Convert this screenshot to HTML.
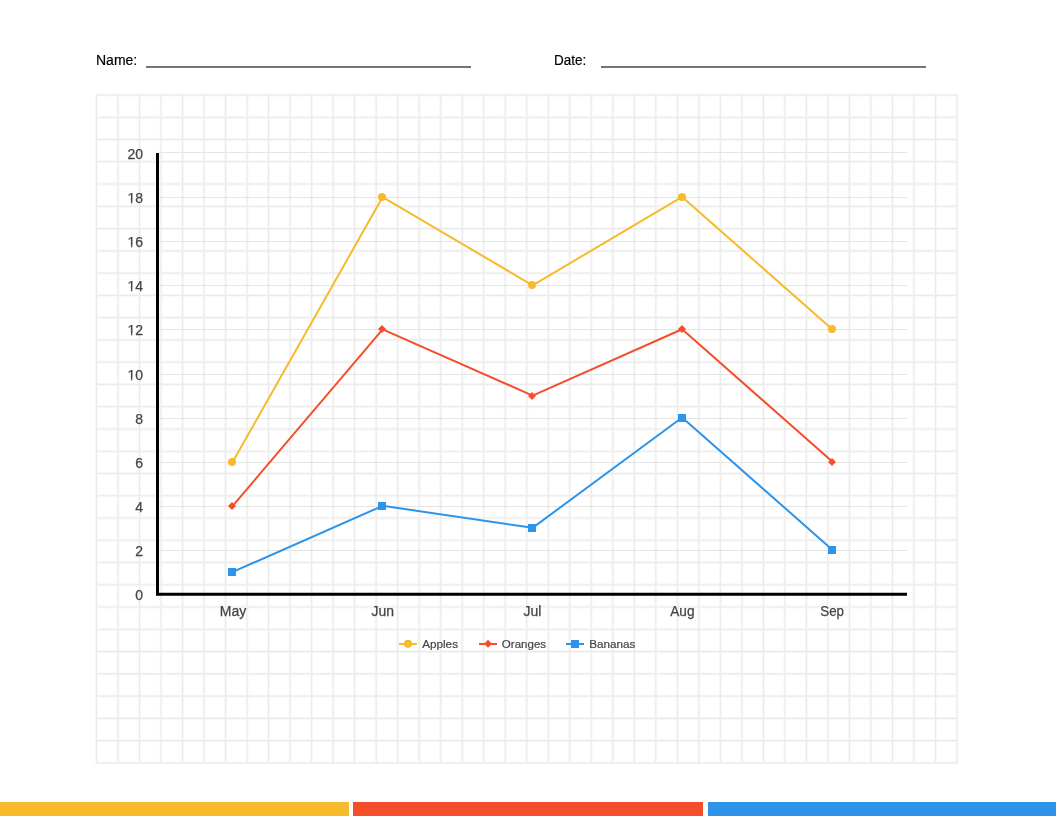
<!DOCTYPE html>
<html lang="en">
<head>
<meta charset="utf-8">
<title>Line Graph Worksheet</title>
<style>
html,body{margin:0;padding:0;background:#ffffff;}
body{width:1056px;height:816px;position:relative;overflow:hidden;font-family:"Liberation Sans",sans-serif;}
svg{position:absolute;will-change:transform;left:0;top:0;display:block;}
text{font-family:"Liberation Sans",sans-serif;}
.hd{font-size:14px;fill:#000000;stroke:#000000;stroke-width:0.2px;}
.ax{font-size:14px;fill:#444444;stroke:#444444;stroke-width:0.25px;}
.lg{font-size:11.8px;fill:#444444;stroke:#444444;stroke-width:0.2px;}
</style>
</head>
<body>
<svg width="1056" height="816" viewBox="0 0 1056 816">

<!-- header -->
<text class="hd" x="96" y="64.8">Name:</text>
<rect x="146" y="66" width="325" height="2" fill="#747474"/>
<text class="hd" x="554" y="64.8" textLength="32.2" lengthAdjust="spacingAndGlyphs">Date:</text>
<rect x="601" y="66" width="325" height="2" fill="#747474"/>
<!-- graph paper -->
<path d="M96.5 94.3V763.6M118.01 94.3V763.6M139.53 94.3V763.6M161.04 94.3V763.6M182.55 94.3V763.6M204.06 94.3V763.6M225.57 94.3V763.6M247.09 94.3V763.6M268.6 94.3V763.6M290.11 94.3V763.6M311.62 94.3V763.6M333.14 94.3V763.6M354.65 94.3V763.6M376.16 94.3V763.6M397.68 94.3V763.6M419.19 94.3V763.6M440.7 94.3V763.6M462.21 94.3V763.6M483.72 94.3V763.6M505.24 94.3V763.6M526.75 94.3V763.6M548.26 94.3V763.6M569.77 94.3V763.6M591.29 94.3V763.6M612.8 94.3V763.6M634.31 94.3V763.6M655.82 94.3V763.6M677.34 94.3V763.6M698.85 94.3V763.6M720.36 94.3V763.6M741.88 94.3V763.6M763.39 94.3V763.6M784.9 94.3V763.6M806.41 94.3V763.6M827.92 94.3V763.6M849.44 94.3V763.6M870.95 94.3V763.6M892.46 94.3V763.6M913.98 94.3V763.6M935.49 94.3V763.6M957 94.3V763.6M95.8 95H957.7M95.8 117.26H957.7M95.8 139.53H957.7M95.8 161.79H957.7M95.8 184.05H957.7M95.8 206.32H957.7M95.8 228.58H957.7M95.8 250.84H957.7M95.8 273.11H957.7M95.8 295.37H957.7M95.8 317.63H957.7M95.8 339.9H957.7M95.8 362.16H957.7M95.8 384.42H957.7M95.8 406.69H957.7M95.8 428.95H957.7M95.8 451.21H957.7M95.8 473.48H957.7M95.8 495.74H957.7M95.8 518H957.7M95.8 540.27H957.7M95.8 562.53H957.7M95.8 584.79H957.7M95.8 607.06H957.7M95.8 629.32H957.7M95.8 651.58H957.7M95.8 673.85H957.7M95.8 696.11H957.7M95.8 718.37H957.7M95.8 740.64H957.7M95.8 762.9H957.7" fill="none" stroke="#000000" stroke-opacity="0.03" stroke-width="2.9"/>
<path d="M96.5 94.3V763.6M118.01 94.3V763.6M139.53 94.3V763.6M161.04 94.3V763.6M182.55 94.3V763.6M204.06 94.3V763.6M225.57 94.3V763.6M247.09 94.3V763.6M268.6 94.3V763.6M290.11 94.3V763.6M311.62 94.3V763.6M333.14 94.3V763.6M354.65 94.3V763.6M376.16 94.3V763.6M397.68 94.3V763.6M419.19 94.3V763.6M440.7 94.3V763.6M462.21 94.3V763.6M483.72 94.3V763.6M505.24 94.3V763.6M526.75 94.3V763.6M548.26 94.3V763.6M569.77 94.3V763.6M591.29 94.3V763.6M612.8 94.3V763.6M634.31 94.3V763.6M655.82 94.3V763.6M677.34 94.3V763.6M698.85 94.3V763.6M720.36 94.3V763.6M741.88 94.3V763.6M763.39 94.3V763.6M784.9 94.3V763.6M806.41 94.3V763.6M827.92 94.3V763.6M849.44 94.3V763.6M870.95 94.3V763.6M892.46 94.3V763.6M913.98 94.3V763.6M935.49 94.3V763.6M957 94.3V763.6M95.8 95H957.7M95.8 117.26H957.7M95.8 139.53H957.7M95.8 161.79H957.7M95.8 184.05H957.7M95.8 206.32H957.7M95.8 228.58H957.7M95.8 250.84H957.7M95.8 273.11H957.7M95.8 295.37H957.7M95.8 317.63H957.7M95.8 339.9H957.7M95.8 362.16H957.7M95.8 384.42H957.7M95.8 406.69H957.7M95.8 428.95H957.7M95.8 451.21H957.7M95.8 473.48H957.7M95.8 495.74H957.7M95.8 518H957.7M95.8 540.27H957.7M95.8 562.53H957.7M95.8 584.79H957.7M95.8 607.06H957.7M95.8 629.32H957.7M95.8 651.58H957.7M95.8 673.85H957.7M95.8 696.11H957.7M95.8 718.37H957.7M95.8 740.64H957.7M95.8 762.9H957.7" fill="none" stroke="#000000" stroke-opacity="0.05" stroke-width="1.1"/>
<!-- chart gridlines -->
<g stroke="#e5e5e5" stroke-width="1">
<line x1="159" y1="550.5" x2="907" y2="550.5"/>
<line x1="159" y1="506.5" x2="907" y2="506.5"/>
<line x1="159" y1="462.5" x2="907" y2="462.5"/>
<line x1="159" y1="418.5" x2="907" y2="418.5"/>
<line x1="159" y1="374.5" x2="907" y2="374.5"/>
<line x1="159" y1="329.5" x2="907" y2="329.5"/>
<line x1="159" y1="285.5" x2="907" y2="285.5"/>
<line x1="159" y1="241.5" x2="907" y2="241.5"/>
<line x1="159" y1="197.5" x2="907" y2="197.5"/>
<line x1="159" y1="152.5" x2="907" y2="152.5"/>
</g>
<!-- axes -->
<path d="M157.5 153 V594.25 H907" fill="none" stroke="#000000" stroke-width="3"/>
<defs><clipPath id="c1"><path clip-rule="evenodd" d="M100 -14H150V6H100Z M127.92 -2.1H131.02V1H127.92Z M132.32 -2.1H135.22V1H132.32Z"/></clipPath></defs>
<g class="ax" text-anchor="end">
<text x="143.1" y="600">0</text>
<text x="143.1" y="556">2</text>
<text x="143.1" y="512">4</text>
<text x="143.1" y="468">6</text>
<text x="143.1" y="424">8</text>
<g transform="translate(0,380)"><text x="143.1" y="0" clip-path="url(#c1)">10</text></g>
<g transform="translate(0,335)"><text x="143.1" y="0" clip-path="url(#c1)">12</text></g>
<g transform="translate(0,291)"><text x="143.1" y="0" clip-path="url(#c1)">14</text></g>
<g transform="translate(0,247)"><text x="143.1" y="0" clip-path="url(#c1)">16</text></g>
<g transform="translate(0,203)"><text x="143.1" y="0" clip-path="url(#c1)">18</text></g>
<text x="143.1" y="159">20</text>
</g>
<g class="ax" text-anchor="middle">
<text x="233" y="615.8">May</text>
<text x="382.75" y="615.8">Jun</text>
<text x="532.4" y="615.8">Jul</text>
<text x="682.4" y="615.8" textLength="24.3" lengthAdjust="spacingAndGlyphs">Aug</text>
<text x="832.1" y="615.8" textLength="23.7" lengthAdjust="spacingAndGlyphs">Sep</text>
</g>
<!-- series -->
<polyline points="232.75,461.7 382.65,197.1 532.6,285.3 682.15,196.95 832.5,329.4" fill="none" stroke="#F6BA2A" stroke-width="2" stroke-linejoin="round"/>
<circle cx="232" cy="462" r="4" fill="#F6BA2A"/>
<circle cx="382" cy="197" r="4" fill="#F6BA2A"/>
<circle cx="532" cy="285" r="4" fill="#F6BA2A"/>
<circle cx="682" cy="197" r="4" fill="#F6BA2A"/>
<circle cx="832" cy="329" r="4" fill="#F6BA2A"/>
<polyline points="232.75,505.8 382.65,329.4 532.6,395.55 682.15,329.25 832.5,461.7" fill="none" stroke="#F44E2B" stroke-width="2" stroke-linejoin="round"/>
<path d="M232 502 l4 4 l-4 4 l-4 -4 z" fill="#F44E2B"/>
<path d="M382 325 l4 4 l-4 4 l-4 -4 z" fill="#F44E2B"/>
<path d="M532 392 l4 4 l-4 4 l-4 -4 z" fill="#F44E2B"/>
<path d="M682 325 l4 4 l-4 4 l-4 -4 z" fill="#F44E2B"/>
<path d="M832 458 l4 4 l-4 4 l-4 -4 z" fill="#F44E2B"/>
<polyline points="232.75,571.95 382.65,505.8 532.6,527.85 682.15,417.45 832.5,549.9" fill="none" stroke="#2E94EA" stroke-width="2" stroke-linejoin="round"/>
<rect x="228" y="568" width="8" height="8" fill="#2E94EA"/>
<rect x="378" y="502" width="8" height="8" fill="#2E94EA"/>
<rect x="528" y="524" width="8" height="8" fill="#2E94EA"/>
<rect x="678" y="414" width="8" height="8" fill="#2E94EA"/>
<rect x="828" y="546" width="8" height="8" fill="#2E94EA"/>
<!-- legend -->
<line x1="399" y1="644" x2="417" y2="644" stroke="#F6BA2A" stroke-width="2"/>
<circle cx="408" cy="643.8" r="4" fill="#F6BA2A"/>
<text class="lg" x="422.2" y="647.5" textLength="35.8" lengthAdjust="spacingAndGlyphs">Apples</text>
<line x1="479" y1="644" x2="497" y2="644" stroke="#F44E2B" stroke-width="2"/>
<path d="M488 639.8 l4 4 l-4 4 l-4 -4 z" fill="#F44E2B"/>
<text class="lg" x="501.8" y="647.5" textLength="44.3" lengthAdjust="spacingAndGlyphs">Oranges</text>
<line x1="566" y1="644" x2="584" y2="644" stroke="#2E94EA" stroke-width="2"/>
<rect x="571" y="640" width="8" height="8" fill="#2E94EA"/>
<text class="lg" x="589.3" y="647.5" textLength="46.1" lengthAdjust="spacingAndGlyphs">Bananas</text>
<!-- footer bars -->
<rect x="0" y="802" width="349" height="14" fill="#F6BA2A"/>
<rect x="353" y="802" width="350" height="14" fill="#F44E2B"/>
<rect x="708" y="802" width="348" height="14" fill="#2E94EA"/>
</svg>
</body>
</html>
